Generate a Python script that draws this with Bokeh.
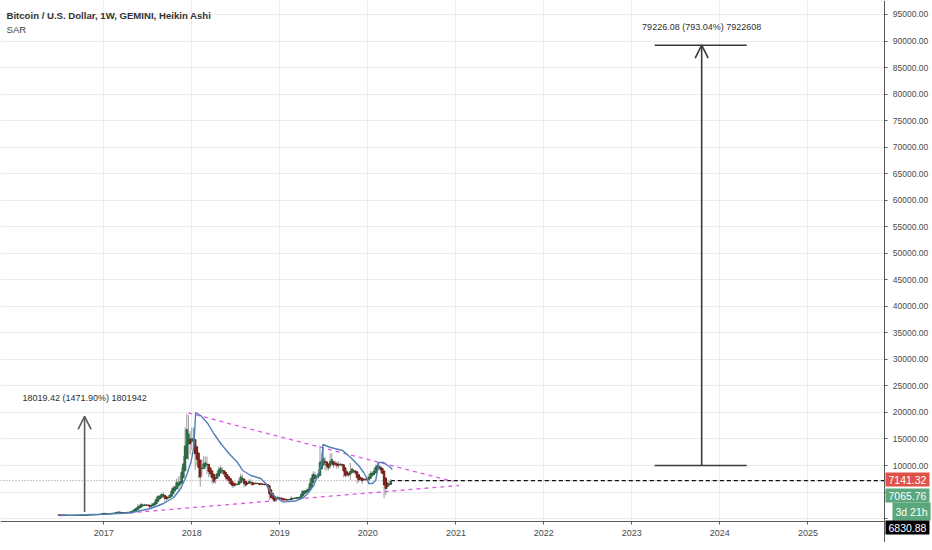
import pandas as pd
from bokeh.plotting import figure
from bokeh.models import (ColumnDataSource, Range1d, FixedTicker, NumeralTickFormatter,
                          DatetimeTickFormatter, Label, Arrow, OpenHead)
from bokeh.embed import file_html
from bokeh.resources import INLINE

# weekly bars (Gemini BTCUSD), first week starts 2016-06-27
first_week = "2016-06-27"
first_open = 660

week_close = [
    # 2016
    670, 650, 665, 655, 625, 590, 570, 580, 575, 610, 608, 610, 600, 612, 617, 640, 655, 700, 705, 700,
    740, 735, 765, 775, 790, 895, 1000,
    # 2017
    900, 820, 920, 915, 1030, 1000, 1050, 1180, 1270, 1230, 960, 970, 1080, 1200, 1180, 1250, 1350,
    1570, 1750, 2050, 2200, 2500, 2650, 2500, 2580, 2500, 2520, 1950, 2750, 2760, 3200, 4100, 4100,
    4350, 4700, 4300, 3700, 3600, 4300, 4600, 5700, 6000, 6150, 7400, 5900, 8000, 9300, 11300, 15200,
    19100, 14000, 13800,
    # 2018
    16200, 13800, 11600, 11100, 8200, 8100, 10400, 9600, 11400, 9600, 8200, 8500, 7000, 6900, 8000,
    8900, 9300, 9600, 8700, 8200, 7400, 7700, 6700, 6400, 6100, 6400, 6300, 6700, 7400, 8200, 7000,
    6300, 6400, 6700, 7250, 6300, 6500, 6700, 6600, 6600, 6300, 6500, 6400, 6400, 6350, 5600, 3900,
    4000, 3500, 3200, 4000, 3900, 3800,
    # 2019
    3600, 3600, 3550, 3430, 3650, 3650, 3850, 3850, 3900, 4000, 4000, 4100, 5050, 5050, 5300, 5200,
    5750, 7250, 8000, 8700, 7700, 7900, 8900, 10800, 10700, 11400, 10300, 9500, 9500, 11800, 10300,
    10200, 10100, 9600, 10300, 10300, 10000, 8000, 8200, 8300, 8200, 9550, 9200, 8800, 8500, 7000,
    7400, 7500, 6900, 7500, 7300, 7400,
    # 2020
    8200, 8700, 8400, 9350, 9900, 9900, 9700, 8500, 8000, 5350, 5900, 5900, 6800, 7065.76,
]
week_high = [
    705, 680, 680, 680, 660, 630, 600, 595, 590, 615, 620, 615, 610, 615, 620, 645, 660, 715, 740, 715,
    750, 750, 770, 780, 795, 900, 1010,
    1150, 920, 930, 935, 1040, 1060, 1060, 1200, 1290, 1330, 1250, 1070, 1090, 1210, 1220, 1260, 1360,
    1600, 1850, 2100, 2760, 2600, 2980, 2800, 2780, 2650, 2650, 2550, 2900, 2900, 3450, 4200, 4480,
    4450, 4800, 4980, 4350, 4100, 4400, 4650, 5850, 6170, 6200, 7500, 7900, 8100, 9700, 11800, 17200,
    19800, 19500, 16500,
    17200, 17100, 14200, 12000, 11700, 9000, 11200, 11800, 11700, 11700, 9900, 9200, 8800, 7500, 8400,
    9000, 9750, 9950, 9700, 8900, 8500, 7800, 7700, 6800, 6800, 6500, 6800, 6800, 7600, 8500, 8300,
    7150, 6600, 6900, 7400, 7400, 6600, 6800, 6900, 6700, 6700, 6800, 6600, 6500, 6550, 6500, 5700,
    4400, 4200, 3650, 4200, 4250, 3950,
    4100, 3700, 3650, 3600, 3700, 3700, 4200, 3900, 3950, 4000, 4100, 4150, 5300, 5450, 5350, 5650,
    5900, 7600, 8300, 8900, 8800, 8300, 9300, 13800, 12400, 13200, 11600, 10900, 10200, 12300, 12300,
    10500, 10950, 10800, 10800, 10500, 10400, 10100, 8500, 8700, 8400, 10500, 9600, 9350, 9100, 8800,
    7850, 7850, 7600, 7650, 7700, 7700,
    8450, 9000, 8900, 9600, 10150, 10500, 10200, 9950, 9200, 8150, 6950, 6900, 7150, 7450,
]
week_low = [
    620, 630, 640, 650, 600, 480, 560, 570, 565, 570, 600, 600, 595, 595, 608, 615, 635, 650, 685, 690,
    695, 720, 725, 755, 760, 790, 890,
    850, 760, 820, 890, 910, 980, 970, 1050, 1180, 1080, 930, 890, 950, 1070, 1150, 1140, 1220,
    1330, 1560, 1740, 1850, 2100, 2450, 2280, 2450, 2380, 2450, 1850, 1950, 2580, 2650, 3150, 3850,
    3950, 4200, 4100, 2950, 3400, 3600, 4150, 4550, 5100, 5450, 6100, 5500, 5800, 7900, 8800, 11000,
    13000, 11000, 12100,
    13000, 12800, 9200, 10000, 7600, 6000, 8000, 9400, 9300, 8400, 7800, 7800, 6600, 6500, 6600,
    7800, 8700, 9000, 8300, 8100, 7200, 7000, 6550, 6300, 5800, 5850, 6100, 6200, 6300, 7300, 6900,
    5900, 6000, 6300, 6700, 6250, 6200, 6300, 6400, 6500, 6250, 6250, 6380, 6250, 6250, 5500, 3500,
    3650, 3450, 3150, 3200, 3750, 3700,
    3500, 3450, 3450, 3380, 3400, 3550, 3600, 3700, 3700, 3800, 3850, 3900, 4050, 4900, 5100, 5000,
    5150, 5650, 6900, 7700, 7600, 7400, 7500, 8900, 9600, 9900, 9200, 9000, 9050, 9400, 10000,
    9500, 9800, 9350, 9550, 9900, 9700, 7800, 7750, 7800, 7900, 7300, 8900, 8500, 8200, 6600,
    6800, 7100, 6500, 7200, 7100, 6900,
    7300, 8050, 8250, 8300, 9100, 9700, 9300, 8550, 8400, 3850, 4450, 5700, 6000, 6650,
]

# SAR line
sar_dates = [
    "2016-06-28", "2017-01-01", "2017-04-22", "2017-07-14", "2017-09-06", "2017-10-18", "2017-11-16",
    "2017-12-07", "2017-12-28", "2018-01-09",
    "2018-01-17", "2018-02-07", "2018-03-08", "2018-04-02", "2018-05-01", "2018-06-04", "2018-07-10",
    "2018-07-31", "2018-09-03", "2018-10-14", "2018-11-12", "2018-11-24", "2018-12-15", "2019-01-13",
    "2019-01-17", "2019-03-07", "2019-04-10", "2019-04-27", "2019-05-22", "2019-06-12", "2019-06-25",
    "2019-06-29", "2019-07-31", "2019-09-19", "2019-10-22", "2019-11-24", "2019-12-15", "2020-01-01",
    "2020-01-05", "2020-01-21", "2020-02-03", "2020-02-11",
    "2020-02-15", "2020-03-07", "2020-04-05", "2020-04-12",
]
sar_values = [
    580, 800, 1100, 1900, 2840, 3970, 5660, 7740, 10560, 13390,
    19990, 19420, 17920, 16030, 14150, 12260, 10560, 9060, 8110, 7550, 6230, 4910, 3970, 3210,
    3150, 3300, 3970, 4720, 6230, 8680, 10560,
    13960, 13390, 12830, 11510, 10000, 8680, 7360,
    6610, 6610, 7170, 9060,
    10560, 10560, 9620, 9250,
]

upper_trend_dates = ["2017-12-18", "2020-12-19"]
upper_trend_values = [19900, 6985]
lower_trend_dates = ["2017-03-15", "2021-01-13"]
lower_trend_values = [954, 6231]

last_price = 7141.32
price_tags = ["7141.32", "7065.76", "3d 21h", "6830.88"]
price_tag_colors = ["#df5248", "#5aa77b", "#5aa77b", "#000000"]

# measure tools: date, from, to, label
left_measure = ("2016-10-13", 1224.2, 19243.6, "18019.42 (1471.90%) 1801942")
right_measure = ("2023-10-18", 9990.0, 89216.1, "79226.08 (793.04%) 7922608")
right_bar_dates = ["2023-04-06", "2024-04-22"]

year_ticks = list(range(2017, 2026))
price_ticks = list(range(0, 95001, 5000))


def ms(d):
    return pd.Timestamp(d).value / 1e6


# Heikin Ashi from the weekly bars
n = len(week_close)
opens = [first_open] + week_close[:-1]
ha_close = [(opens[i] + week_high[i] + week_low[i] + week_close[i]) / 4 for i in range(n)]
ha_open = [(opens[0] + week_close[0]) / 2]
for i in range(1, n):
    ha_open.append((ha_open[-1] + ha_close[i - 1]) / 2)
ha_high = [max(week_high[i], ha_open[i], ha_close[i]) for i in range(n)]
ha_low = [min(week_low[i], ha_open[i], ha_close[i]) for i in range(n)]
up = [ha_close[i] >= ha_open[i] for i in range(n)]

dates = pd.date_range(first_week, periods=n, freq="7D")
candles = ColumnDataSource(dict(
    date=dates,
    top=[max(a, b) for a, b in zip(ha_open, ha_close)],
    bottom=[min(a, b) for a, b in zip(ha_open, ha_close)],
    high=ha_high,
    low=ha_low,
    fill=["#3f8c5d" if u else "#a3362b" for u in up],
    edge=["#24603d" if u else "#6e1c15" for u in up],
))

FONT = "Liberation Sans"
# the frame covers the whole canvas; the price scale and time scale sit inside it
FRAME_W, FRAME_H = 932, 542
x_start, x_end = pd.Timestamp("2015-10-30"), pd.Timestamp("2026-06-02")
scale_date = pd.Timestamp("2025-11-16")      # where the price scale starts
y_bottom, y_top, y_axis_at = -4512, 97638, -554

p = figure(frame_width=FRAME_W, frame_height=FRAME_H, x_axis_type="datetime",
           y_axis_location="right",
           x_range=Range1d(x_start, x_end), y_range=Range1d(y_bottom, y_top),
           toolbar_location=None, output_backend="svg",
           min_border_left=0, min_border_top=0, min_border_right=0, min_border_bottom=0)
p.outline_line_color = None

p.xaxis.ticker = FixedTicker(ticks=[ms(f"{y}-01-01") for y in year_ticks])
p.xaxis.formatter = DatetimeTickFormatter(years="%Y", months="%Y", days="%Y")
p.xaxis.fixed_location = y_axis_at
p.xaxis.bounds = (ms(x_start), ms(scale_date))
p.yaxis.ticker = FixedTicker(ticks=price_ticks)
p.yaxis.formatter = NumeralTickFormatter(format="0.00")
p.yaxis.fixed_location = ms(scale_date)
p.xgrid.ticker = p.xaxis.ticker
p.ygrid.ticker = p.yaxis.ticker
p.grid.grid_line_color = "#ececec"
p.axis.axis_line_color = "#5a5a5a"
p.axis.major_tick_line_color = "#5a5a5a"
p.axis.major_tick_in = 0
p.axis.major_tick_out = 3
p.axis.minor_tick_line_color = None
p.axis.major_label_text_font = FONT
p.axis.major_label_text_color = "#4a4a4a"
p.yaxis.major_label_text_font_size = "8.5px"
p.yaxis.major_label_standoff = 5
p.xaxis.major_label_text_font_size = "9px"
p.xaxis.major_label_standoff = 6

# blank out the grid under the two scales
p.quad(left=[ms(scale_date)], right=[ms(x_end)], bottom=[y_bottom], top=[y_top],
       fill_color="white", line_color=None)
p.quad(left=[ms(x_start)], right=[ms(x_end)], bottom=[y_bottom], top=[y_axis_at],
       fill_color="white", line_color=None)

# last price lines
p.line([x_start, scale_date], [last_price, last_price], line_color="#8a8a8a",
       line_dash="1 2", line_width=1)
p.line([dates[-1], scale_date], [last_price, last_price], line_color="#111111",
       line_dash="4 3", line_width=1.4)

# trend lines
p.line(pd.to_datetime(upper_trend_dates), upper_trend_values, line_color="#e055e8",
       line_dash="4 4", line_width=1.3)
p.line(pd.to_datetime(lower_trend_dates), lower_trend_values, line_color="#e055e8",
       line_dash="4 4", line_width=1.3)

# candles
p.segment(x0="date", y0="low", x1="date", y1="high", line_color="#9c9c9c", line_width=1,
          source=candles)
p.vbar(x="date", width=6 * 86400000, top="top", bottom="bottom", fill_color="fill",
       line_color="edge", line_width=1, source=candles)

# SAR
p.line(pd.to_datetime(sar_dates), sar_values, line_color="#4f80b8", line_width=1.4)

# measure arrows
for (d, y0, y1, txt), col in [(left_measure, "#5c5c5c"), (right_measure, "#3a3a3a")]:
    p.add_layout(Arrow(end=OpenHead(size=13, line_color=col, line_width=1.6),
                       x_start=ms(d), y_start=y0, x_end=ms(d), y_end=y1,
                       line_color=col, line_width=1.6))
    p.add_layout(Label(x=ms(d), y=y1, text=txt, text_align="center", text_baseline="bottom",
                       y_offset=13, text_font=FONT, text_font_size="9px", text_color="#2f2f2f"))
p.segment(x0=[ms(right_bar_dates[0])] * 2, x1=[ms(right_bar_dates[1])] * 2,
          y0=[right_measure[1], right_measure[2]], y1=[right_measure[1], right_measure[2]],
          line_color="#3a3a3a", line_width=1.6)

# title
p.add_layout(Label(x=6, y=FRAME_H - 15, x_units="screen", y_units="screen", text_baseline="middle",
                   text="Bitcoin / U.S. Dollar, 1W, GEMINI, Heikin Ashi", text_font=FONT,
                   text_font_size="9.6px", text_font_style="bold", text_color="#333333"))
p.add_layout(Label(x=6, y=FRAME_H - 29, x_units="screen", y_units="screen", text_baseline="middle",
                   text="SAR", text_font=FONT, text_font_size="9.6px", text_color="#444444"))

# price tags on the price scale (centres at 63, 47, 31, 15 px above the canvas bottom)
for i, (txt, col) in enumerate(zip(price_tags, price_tag_colors)):
    p.add_layout(Label(x=885 + (7 if txt.startswith("3d") else 0), y=63 - 16 * i,
                       x_units="screen", y_units="screen", text=txt, text_baseline="middle",
                       text_font=FONT, text_font_size="10.5px", text_color="white",
                       background_fill_color=col, padding=3))

open("out.html", "w").write(file_html(p, INLINE))
